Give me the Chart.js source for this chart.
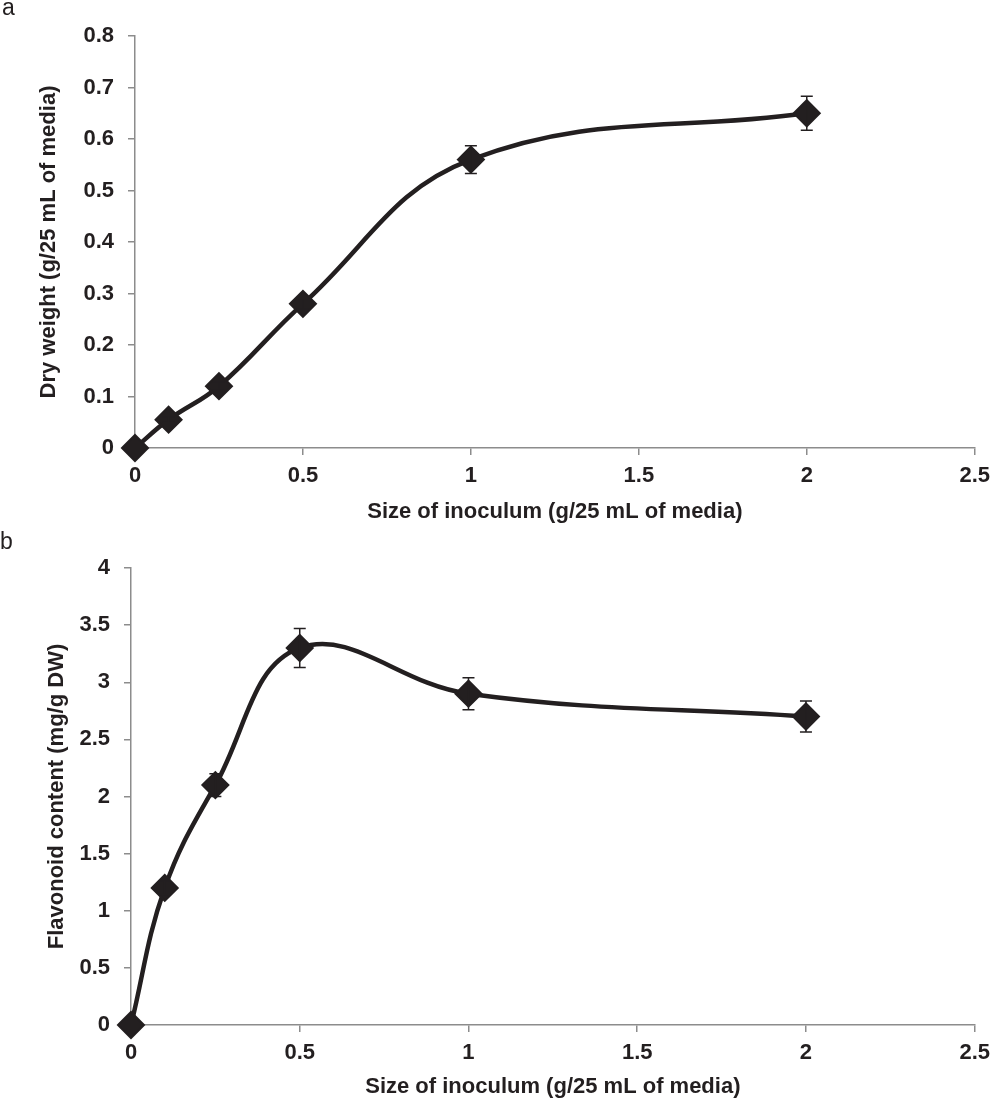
<!DOCTYPE html>
<html>
<head>
<meta charset="utf-8">
<script src="https://cdn.jsdelivr.net/npm/chart.js@4/dist/chart.umd.min.js"></script>
<style>
  body { margin: 0; background: #fff; }
  #wrap { position: relative; width: 998px; height: 1101px; }
  .panel { position: absolute; left: 0; width: 998px; }
  .tag { position: absolute; font-family: "Liberation Sans", Arial, sans-serif; color: #231f20; }
</style>
</head>
<body>
<div id="wrap">
  <div class="panel" style="top:0;height:530px"><canvas id="chartA"></canvas></div>
  <div class="panel" style="top:530px;height:571px"><canvas id="chartB"></canvas></div>
  <div class="tag" style="left:2px;top:-6px;font-size:23px">a</div>
  <div class="tag" style="left:0px;top:528px;font-size:23px">b</div>
</div>
<script>
// Inoculum sizes (g/25 mL of media)
const inoculum = [0, 0.1, 0.25, 0.5, 1, 2];

// Panel a: dry weight (g/25 mL of media) and error
const dryWeight = [0, 0.055, 0.12, 0.28, 0.56, 0.65];
const dryWeightErr = [0, 0.005, 0.008, 0.01, 0.027, 0.033];

// Panel b: flavonoid content (mg/g DW) and error
const flavonoid = [0, 1.2, 2.1, 3.3, 2.9, 2.7];
const flavonoidErr = [0, 0.06, 0.1, 0.17, 0.14, 0.135];

const ink = '#231f20';
const axisGrey = '#8c8c8c';
const font = 'Liberation Sans';

// error bars drawn through the chart's own scales
const errorBars = {
    id: 'errorBars',
    afterDatasetsDraw(chart, args, opts) {
        const ctx = chart.ctx;
        const xs = chart.scales.x;
        const ys = chart.scales.y;
        const vals = chart.data.datasets[0].data;
        ctx.save();
        ctx.strokeStyle = ink;
        ctx.lineWidth = 1.5;
        vals.forEach((p, i) => {
            const e = opts.errors[i];
            if (!e) return;
            const x = xs.getPixelForValue(p.x);
            const y1 = ys.getPixelForValue(p.y + e);
            const y2 = ys.getPixelForValue(p.y - e);
            ctx.beginPath();
            ctx.moveTo(x, y1); ctx.lineTo(x, y2);
            ctx.moveTo(x - 6, y1); ctx.lineTo(x + 6, y1);
            ctx.moveTo(x - 6, y2); ctx.lineTo(x + 6, y2);
            ctx.stroke();
        });
        ctx.restore();
    }
};

const fmt = (v) => String(Number(v.toFixed(2)));

function makeChart(id, values, errors, yMax, yStep, yTitle, axisW, axisH, padTop, padRight, yTitlePad, xTitlePad) {
    const ctx = document.getElementById(id).getContext('2d');
    return new Chart(ctx, {
        type: 'line',
        data: {
            datasets: [{
                data: inoculum.map((x, i) => ({ x: x, y: values[i] })),
                borderColor: ink,
                borderWidth: 4.5,
                tension: 0.4,
                pointStyle: 'rectRot',
                pointRadius: 13,
                pointBorderWidth: 2,
                pointBackgroundColor: ink,
                pointBorderColor: ink,
                clip: false
            }]
        },
        options: {
            responsive: true,
            maintainAspectRatio: false,
            animation: false,
            layout: { padding: { top: padTop, right: padRight, left: 0, bottom: 0 } },
            plugins: {
                legend: { display: false },
                tooltip: { enabled: false },
                errorBars: { errors: errors }
            },
            scales: {
                x: {
                    type: 'linear',
                    min: 0,
                    max: 2.5,
                    afterFit: (s) => { s.height = axisH; },
                    ticks: { stepSize: 0.5, color: ink, padding: 8, font: { family: font, size: 22, weight: 'bold' }, callback: fmt },
                    grid: { display: true, drawOnChartArea: false, drawTicks: true, tickLength: 7, color: axisGrey, lineWidth: 1.5 },
                    border: { display: true, color: axisGrey, width: 1.5 },
                    title: { display: true, text: 'Size of inoculum (g/25 mL of media)', color: ink, padding: { top: 0, bottom: xTitlePad }, font: { family: font, size: 22, weight: 'bold' } }
                },
                y: {
                    min: 0,
                    max: yMax,
                    afterFit: (s) => { s.width = axisW; },
                    ticks: { stepSize: yStep, color: ink, padding: 14, font: { family: font, size: 22, weight: 'bold' }, callback: fmt },
                    grid: { display: true, drawOnChartArea: false, drawTicks: true, tickLength: 7, color: axisGrey, lineWidth: 1.5 },
                    border: { display: true, color: axisGrey, width: 1.5 },
                    title: { display: true, text: yTitle, color: ink, padding: { top: yTitlePad, bottom: 0 }, font: { family: font, size: 22, weight: 'bold' } }
                }
            }
        },
        plugins: [errorBars]
    });
}

makeChart('chartA', dryWeight, dryWeightErr, 0.8, 0.1, 'Dry weight (g/25 mL of media)', 135, 82, 36, 18, 36, 5);
makeChart('chartB', flavonoid, flavonoidErr, 4, 0.5, 'Flavonoid content (mg/g DW)', 131, 76, 38, 17, 44, 1);
</script>
</body>
</html>
